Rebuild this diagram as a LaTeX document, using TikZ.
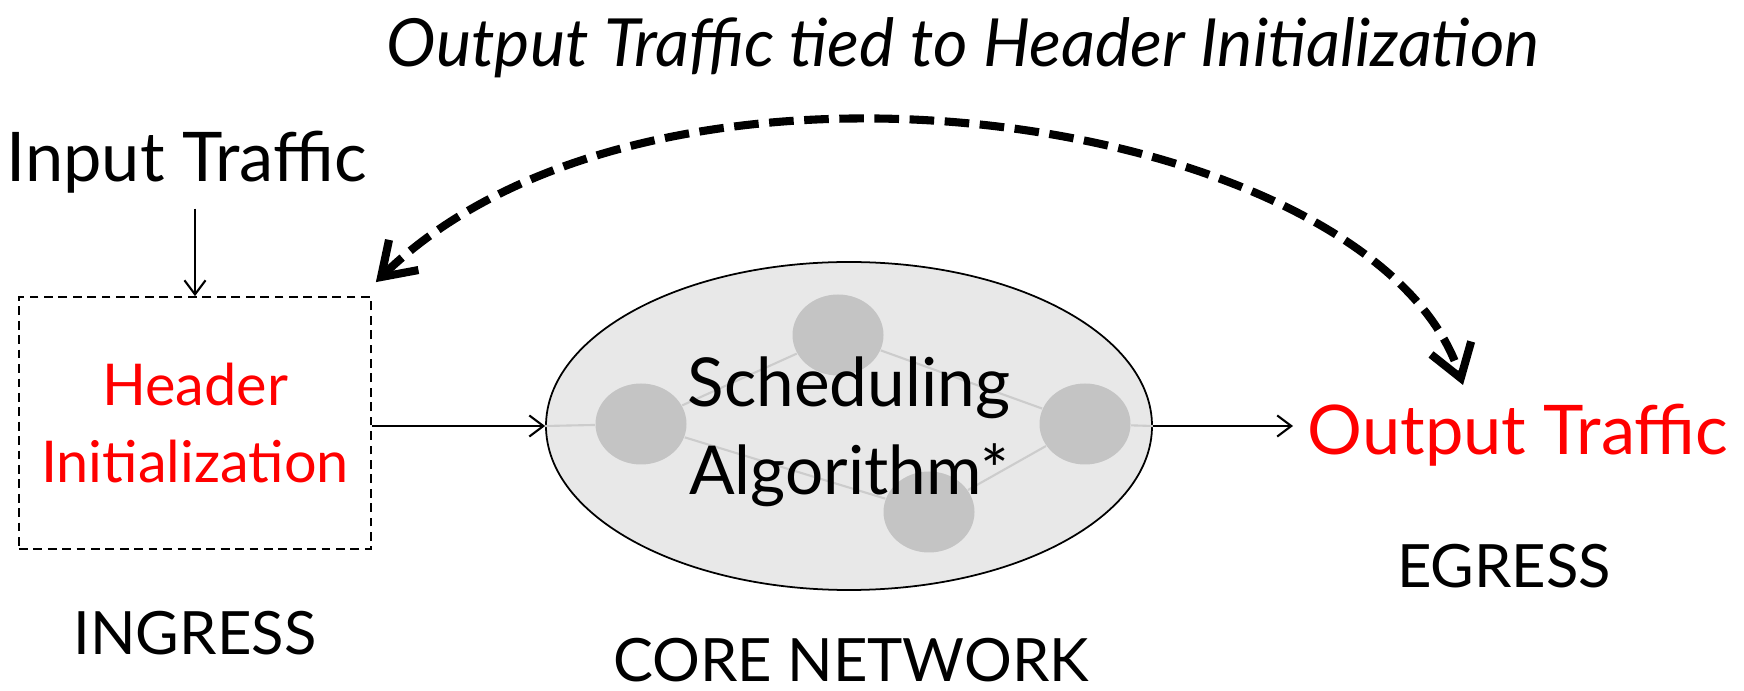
\documentclass[tikz,border=0pt]{standalone}
\usepackage{fontspec}
\setmainfont{Lato}
\usepackage{xcolor}
\usetikzlibrary{positioning}
\usetikzlibrary{arrows.meta}
\usetikzlibrary{shapes.geometric}
\tikzset{flow/.style={-{Straight Barb[length=4pt,width=6pt]}, line width=0.6pt},
feedback/.style={{Straight Barb[length=9pt,width=12pt]}-{Straight Barb[length=9pt,width=12pt]},
line width=2.3pt, dash pattern=on 7pt off 3pt},
big/.style={font=\fontsize{19.5}{25}\selectfont, inner sep=0pt},
zone/.style={font=\fontsize{17}{20}\selectfont, inner sep=0pt, anchor=base},
core/.style={ellipse, draw, fill=gray!18, line width=0.5pt, minimum width=6.06cm, minimum height=3.28cm},
router/.style={ellipse, fill=gray!46, minimum width=0.91cm, minimum height=0.81cm, inner sep=0pt},
link/.style={gray!40, line width=0.6pt}}

\begin{document}
\begin{tikzpicture}[x=1cm, y=1cm]
\useasboundingbox (0,0) rectangle (17.44,6.9);

				\node[big, font=\fontsize{18.9}{22}\selectfont\itshape, anchor=base] (tied) at (9.63,6.23)
					{Output Traffic tied to Header Initialization};
				\node[big, anchor=base, inner ysep=4pt] (input) at (1.865,5.08) {Input Traffic};
				\node[draw, dash pattern=on 2.5pt off 1.6pt, line width=0.5pt, minimum width=3.52cm,
					minimum height=2.52cm, text=red, align=center, font=\fontsize{16.4}{22}\selectfont]
					(hdr) at (1.95,2.67) {Header\\Initialization};
				\node[core] (core) at (8.49,2.64) {};
				\node[router] (r1) at (6.41,2.66) {};
				\node[router] (r2) at (8.38,3.55) {};
				\node[router] (r3) at (10.85,2.66) {};
				\node[router] (r4) at (9.29,1.78) {};
				\draw[link] (core.west) -- (r1) -- (r2) -- (r3) -- (core.east);
				\draw[link] (r1) -- (r4) -- (r3);
				\node[big, font=\fontsize{19.2}{25}\selectfont, align=center] (sched) at ([yshift=-0.06cm]core.center)
					{Scheduling\\Algorithm*};
				\node[big, text=red, anchor=base west, inner xsep=4pt] (out) at (12.93,2.35) {Output Traffic};

				\draw[flow] (input.south -| hdr.north) -- (hdr.north);
				\draw[flow] (hdr.east |- core.west) -- (core.west);
				\draw[flow] (core.east) -- (core.east -| out.west);

				\coordinate (fbstart) at ([shift={(0.04,0.14)}]hdr.north east);
				\coordinate (fbend) at (14.63,3.05);
				\draw[feedback] (fbstart) .. controls (6.6,6.85) and (13.76,5.75) .. (fbend);

				\node[zone] (ingress) at (1.95,0.35) {INGRESS};
				\node[zone] (corenet) at (8.51,0.09) {CORE NETWORK};
				\node[zone] (egress) at (15.04,1.02) {EGRESS};
\end{tikzpicture}
\end{document}
